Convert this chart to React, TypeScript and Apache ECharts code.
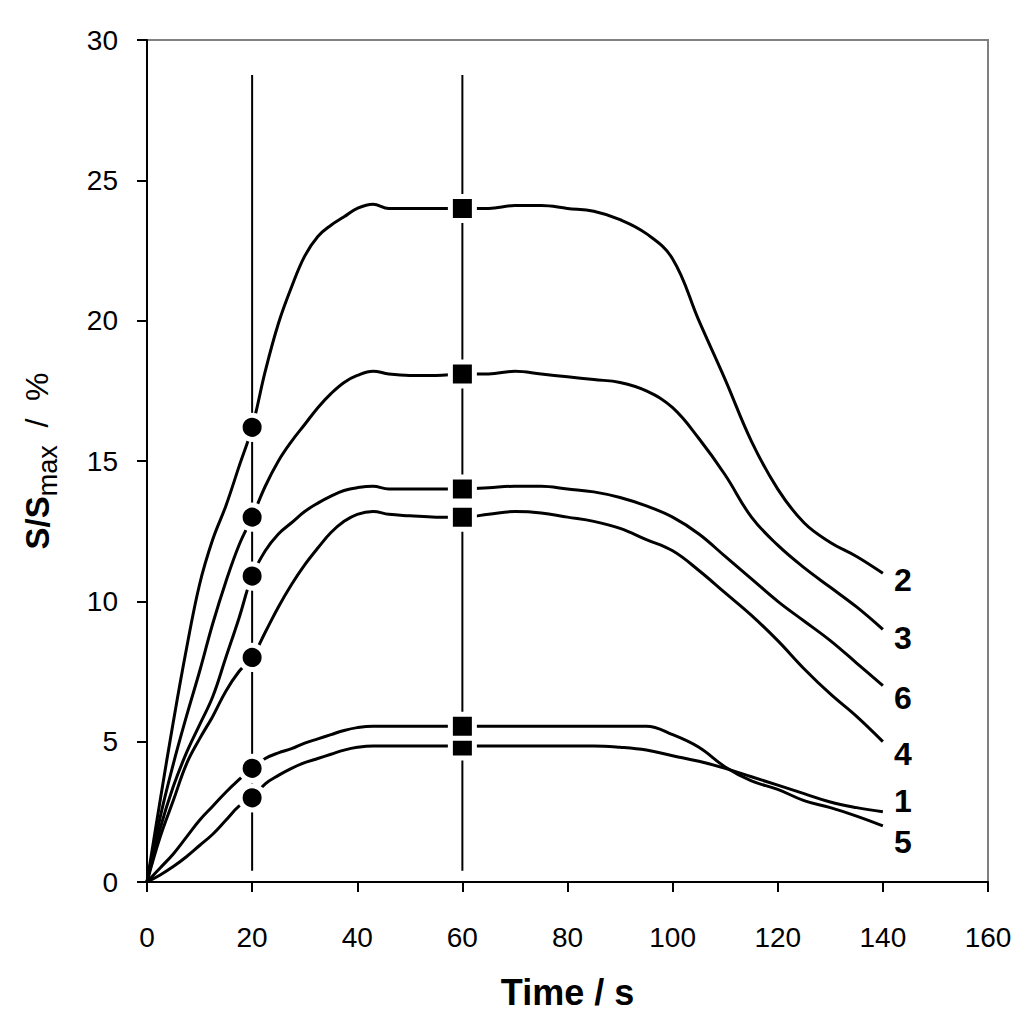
import React, { useEffect, useRef } from 'react';
import * as echarts from 'echarts';

// time points (s) shared by all six curves
const TIME = [
  0, 2.5, 5, 7.5, 10, 12.5, 15, 17.5, 20, 22.5, 25, 27.5, 30, 32.5, 35, 37.5, 40, 43, 46, 50,
  55, 60, 65, 70, 75, 80, 85, 90, 95, 100, 105, 110, 115, 120, 125, 130, 135, 140,
];

const CURVE_1 = [
  0, 0.25, 0.55, 0.9, 1.3, 1.7, 2.2, 2.7, 3.0, 3.5, 3.8, 4.05, 4.25, 4.4, 4.55, 4.7, 4.8, 4.85, 4.85, 4.85,
  4.85, 4.85, 4.85, 4.85, 4.85, 4.85, 4.85, 4.8, 4.7, 4.5, 4.3, 4.05, 3.75, 3.45, 3.15, 2.85, 2.65, 2.5,
];
const CURVE_2 = [
  0, 2.9, 5.7, 8.3, 10.6, 12.2, 13.4, 14.8, 16.2, 18.2, 19.9, 21.2, 22.3, 23.0, 23.4, 23.7, 24.0, 24.15, 24.0, 24.0,
  24.0, 24.0, 24.0, 24.1, 24.1, 24.0, 23.9, 23.6, 23.1, 22.2, 20.0, 17.9, 15.7, 14.0, 12.8, 12.1, 11.6, 11.0,
];
const CURVE_3 = [
  0, 2.3, 4.2, 5.9, 7.5, 9.2, 10.7, 12.0, 13.0, 14.1, 15.0, 15.7, 16.3, 16.9, 17.4, 17.8, 18.05, 18.2, 18.1, 18.05,
  18.05, 18.1, 18.1, 18.2, 18.1, 18.0, 17.9, 17.8, 17.5, 16.9, 15.8, 14.5, 13.0, 12.0, 11.2, 10.5, 9.8, 9.0,
];
const CURVE_4 = [
  0, 1.6, 2.9, 4.2, 5.1, 5.9, 6.8, 7.5, 8.0, 8.9, 9.8, 10.6, 11.3, 11.9, 12.45, 12.85, 13.1, 13.2, 13.1, 13.05,
  13.0, 13.0, 13.1, 13.2, 13.15, 13.0, 12.85, 12.6, 12.2, 11.8, 11.1, 10.3, 9.5, 8.6, 7.6, 6.7, 5.9, 5.0,
];
const CURVE_5 = [
  0, 0.5, 1.0, 1.6, 2.2, 2.7, 3.2, 3.65, 4.05, 4.4, 4.6, 4.75, 4.95, 5.1, 5.25, 5.4, 5.5, 5.55, 5.55, 5.55,
  5.55, 5.55, 5.55, 5.55, 5.55, 5.55, 5.55, 5.55, 5.55, 5.25, 4.8, 4.1, 3.6, 3.3, 2.9, 2.65, 2.35, 2.0,
];
const CURVE_6 = [
  0, 1.9, 3.4, 4.6, 5.6, 6.6, 8.0, 9.4, 10.9, 11.8, 12.4, 12.8, 13.2, 13.5, 13.75, 13.95, 14.05, 14.1, 14.0, 14.0,
  14.0, 14.0, 14.05, 14.1, 14.1, 14.0, 13.9, 13.7, 13.4, 13.0, 12.4, 11.6, 10.8, 10.0, 9.3, 8.6, 7.8, 7.0,
];

const CURVE_NAMES = ['1', '2', '3', '4', '5', '6'];
const CURVES = [CURVE_1, CURVE_2, CURVE_3, CURVE_4, CURVE_5, CURVE_6];

// marker times: circles and squares, and the vertical guide lines through them
const CIRCLE_TIME = 20;
const SQUARE_TIME = 60;
const GUIDE_TIMES = [20, 60];
const GUIDE_RANGE = [0.4, 28.75];

const X_TICKS = [0, 20, 40, 60, 80, 100, 120, 140, 160];
const Y_TICKS = [0, 5, 10, 15, 20, 25, 30];

const FONT = '"Liberation Sans", Arial, sans-serif';

// end label offsets so the numbers sit where the reference puts them
const END_OFFSET: Record<string, [number, number]> = {
  '1': [0, -11],
  '2': [0, 7],
  '3': [0, 9],
  '4': [0, 12],
  '5': [0, 16],
  '6': [0, 12],
};

const App: React.FC = () => {
  const chartRef = useRef<HTMLDivElement>(null);

  useEffect(() => {
    document.body.style.margin = '0';
    if (!chartRef.current) return;
    const chart = echarts.init(chartRef.current, undefined, { renderer: 'svg' });

    const iCircle = TIME.indexOf(CIRCLE_TIME);
    const iSquare = TIME.indexOf(SQUARE_TIME);

    const curveSeries: any[] = CURVES.map((vals, k) => ({
      name: CURVE_NAMES[k],
      type: 'line',
      data: TIME.map((t, i) => [t, vals[i]]),
      showSymbol: false,
      symbol: 'none',
      smooth: 0.4,
      z: 2,
      lineStyle: { color: '#000', width: 3 },
      endLabel: {
        show: true,
        formatter: '{a}',
        distance: 11,
        offset: END_OFFSET[CURVE_NAMES[k]],
        fontFamily: FONT,
        fontSize: 32,
        fontWeight: 'bold',
        color: '#000',
      },
    }));

    const guideSeries: any[] = GUIDE_TIMES.map((t) => ({
      type: 'line',
      data: GUIDE_RANGE.map((v) => [t, v]),
      symbol: 'none',
      z: 1,
      lineStyle: { color: '#000', width: 2 },
    }));

    const markerStyle = { color: '#000', borderColor: '#fff', borderWidth: 5, opacity: 1 };

    const option: echarts.EChartsOption = {
      animation: false,
      grid: {
        left: 147,
        right: 36,
        top: 40,
        bottom: 145,
        show: true,
        borderColor: '#808080',
        borderWidth: 2,
      },
      xAxis: {
        type: 'value',
        min: X_TICKS[0],
        max: X_TICKS[X_TICKS.length - 1],
        interval: 20,
        name: 'Time / s',
        nameLocation: 'middle',
        nameGap: 92,
        nameTextStyle: { fontFamily: FONT, fontSize: 36, fontWeight: 'bold', color: '#000' },
        axisLine: { lineStyle: { color: '#000', width: 2 } },
        axisTick: { show: true, length: 10, lineStyle: { color: '#000', width: 2 } },
        axisLabel: { fontFamily: FONT, fontSize: 28, color: '#000', margin: 41 },
        splitLine: { show: false },
      },
      yAxis: {
        type: 'value',
        min: Y_TICKS[0],
        max: Y_TICKS[Y_TICKS.length - 1],
        interval: 5,
        name: '{b|S/S}{s|max}{n|  /  %}',
        nameLocation: 'middle',
        nameGap: 86,
        nameRotate: 90,
        nameTextStyle: {
          color: '#000',
          rich: {
            b: { fontFamily: FONT, fontSize: 33, fontWeight: 'bold', lineHeight: 48, color: '#000' },
            s: { fontFamily: FONT, fontSize: 27, lineHeight: 27, verticalAlign: 'bottom', color: '#000' },
            n: { fontFamily: FONT, fontSize: 32, lineHeight: 48, color: '#000' },
          },
        },
        axisLine: { show: true, lineStyle: { color: '#000', width: 2 } },
        axisTick: { show: true, length: 10, lineStyle: { color: '#000', width: 2 } },
        axisLabel: { fontFamily: FONT, fontSize: 28, color: '#000', margin: 29 },
        splitLine: { show: false },
      },
      series: [
        ...guideSeries,
        ...curveSeries,
        {
          type: 'scatter',
          symbol: 'circle',
          symbolSize: 24,
          z: 3,
          itemStyle: markerStyle,
          data: CURVES.map((vals) => [CIRCLE_TIME, vals[iCircle]]),
        },
        {
          type: 'scatter',
          symbol: 'rect',
          symbolSize: 24,
          z: 3,
          itemStyle: markerStyle,
          data: CURVES.map((vals) => [SQUARE_TIME, vals[iSquare]]),
        },
      ],
    };

    chart.setOption(option);
    return () => chart.dispose();
  }, []);

  return <div ref={chartRef} style={{ width: '1024px', height: '1027px' }} />;
};

export default App;
